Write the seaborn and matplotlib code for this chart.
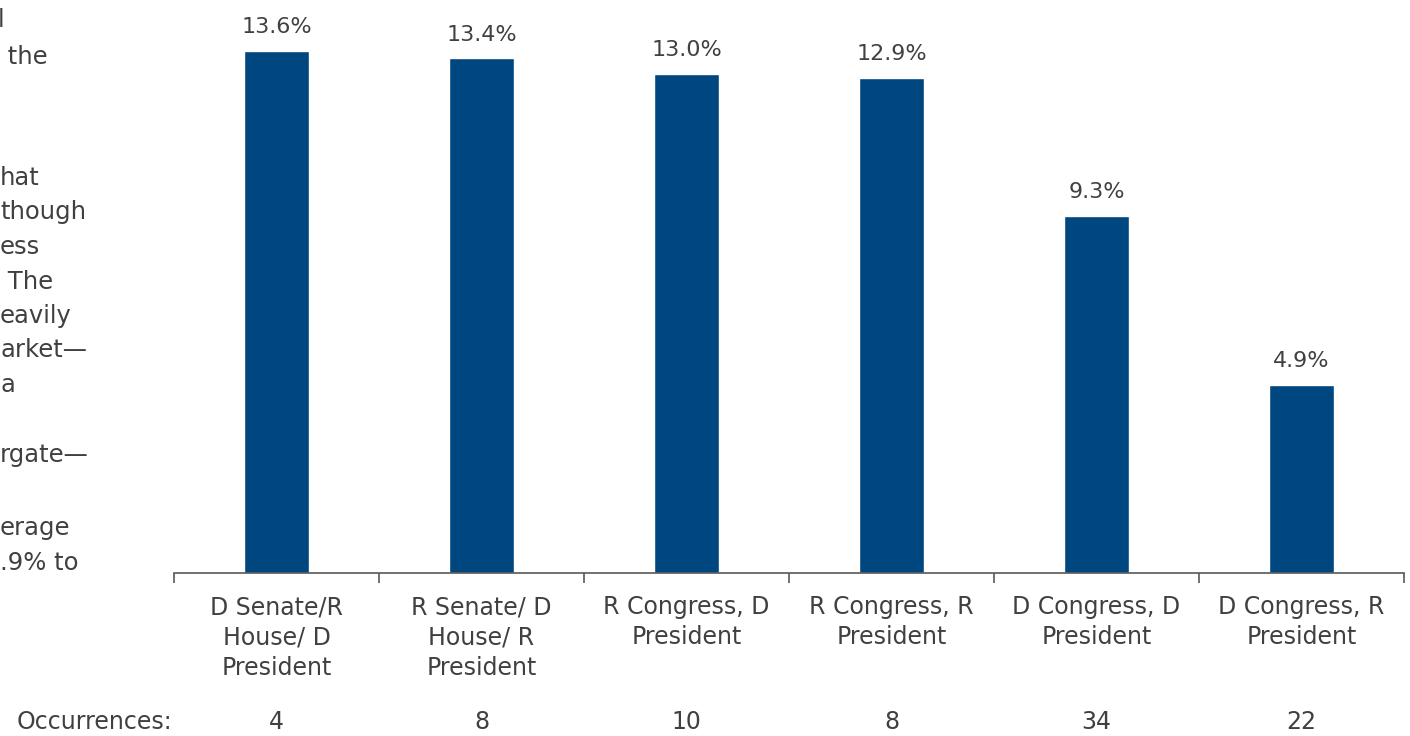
import matplotlib
matplotlib.use("Agg")
import matplotlib.pyplot as plt
import seaborn as sns
import pandas as pd
from matplotlib.ticker import FixedLocator

# Average annual S&P 500 return by party control of government
categories = [
    "D Senate/R\nHouse/ D\nPresident",
    "R Senate/ D\nHouse/ R\nPresident",
    "R Congress, D\nPresident",
    "R Congress, R\nPresident",
    "D Congress, D\nPresident",
    "D Congress, R\nPresident",
]
returns = [13.6, 13.4, 13.0, 12.9, 9.3, 4.9]
occurrences = [4, 8, 10, 8, 34, 22]

# Tail ends of the commentary column that runs beside the chart
side_text = [
    ("l", -2, 20), (" the", 0, 57), ("hat", 0, 178), ("though", 0, 212),
    ("ess", 0, 247), (" The", 0, 282), ("eavily", 0, 316), ("arket\u2014", 0, 350),
    ("a", 0, 385), ("rgate\u2014", 0, 455), ("erage", 0, 528), (".9% to", 0, 563),
]

sns.set_theme(style="white")
plt.rcParams["font.family"] = ["DejaVu Sans"]

BAR = "#00467f"
TXT = "#404040"
AXC = "#595959"
W, H = 1410, 736
FS = 17

df = pd.DataFrame({"group": categories, "ret": returns})

fig = plt.figure(figsize=(W / 100, H / 100), dpi=100)
ax = fig.add_axes([174 / W, 1 - 573 / H, (1404 - 174) / W, 573 / H])

sns.barplot(data=df, x="group", y="ret", color=BAR, width=0.315,
            saturation=1, ax=ax)

ax.set_xlim(-0.5, len(categories) - 0.5)
ax.set_ylim(0, 573 / 38.4)

for i, v in enumerate(returns):
    ax.annotate(f"{v:.1f}%", (i, v), xytext=(0, 10), textcoords="offset points",
                ha="center", va="bottom", fontsize=16, color=TXT)

for s in ["top", "right", "left"]:
    ax.spines[s].set_visible(False)
ax.spines["bottom"].set_color(AXC)
ax.spines["bottom"].set_linewidth(1.2)
ax.set_yticks([])
ax.set_xlabel("")
ax.set_ylabel("")

ax.set_xticks(range(len(categories)))
ax.set_xticklabels(categories, fontsize=FS, color=TXT, linespacing=1.33)
ax.xaxis.set_minor_locator(FixedLocator([i - 0.5 for i in range(len(categories) + 1)]))
ax.tick_params(axis="x", which="minor", bottom=True, length=7, width=1.2,
               color=AXC, direction="out")
ax.tick_params(axis="x", which="major", length=0, pad=16)

# Occurrence counts row
fig.text(172 / W, 1 - 722 / H, "Occurrences:", ha="right", va="center",
         fontsize=FS, color=TXT)
for i, n in enumerate(occurrences):
    x_fig = fig.transFigure.inverted().transform(ax.transData.transform((i, 0)))[0]
    fig.text(x_fig, 1 - 722 / H, str(n), ha="center", va="center",
             fontsize=FS, color=TXT)

for s, x, y in side_text:
    fig.text(x / W, 1 - y / H, s, ha="left", va="center", fontsize=17.5, color=TXT)

fig.savefig("out.png", dpi=100, facecolor="white")
